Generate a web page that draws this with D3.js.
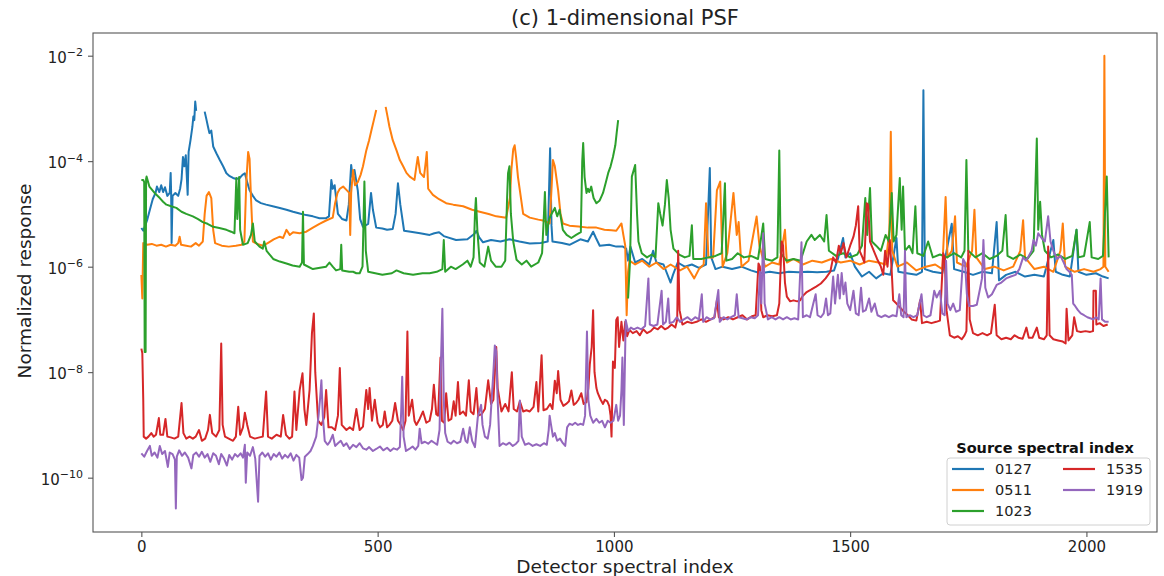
<!DOCTYPE html>
<html><head><meta charset="utf-8">
<script src="https://cdn.jsdelivr.net/npm/d3@7"></script>
<style>body{margin:0;background:#fff} svg{display:block} text{font-family:"DejaVu Sans",sans-serif}</style>
</head><body><svg id="chart" width="1164" height="576"></svg>
<script>
const chartTitle = "(c) 1-dimensional PSF";
const xLabel = "Detector spectral index";
const yLabel = "Normalized response";
const legendTitle = "Source spectral index";
const seriesNames = ["0127","0511","1023","1535","1919"];
const seriesColors = ["#1f77b4","#ff7f0e","#2ca02c","#d62728","#9467bd"];
const xTicks = [0,500,1000,1500,2000];
const yTickExps = [-2,-4,-6,-8,-10];

const s0127 = [[0,5.4e-6],[4,4.8e-6],[8,6e-6],[12,7.5e-6],[18,1.2e-5],[24,1.9e-5],[30,2.5e-5],[33,3.3e-5],[38,2.6e-5],[42,3.5e-5],[46,2.6e-5],[50,3.2e-5],[55,2.2e-5],[60,2.5e-5],[62,6e-5],[63,2.5e-5],[64,2.8e-6],[66,2.2e-5],[72,2.5e-5],[78,2.2e-5],[82,3e-5],[85,4.5e-5],[88,1.2e-4],[91,8e-5],[94,1.3e-4],[98,2.3e-5],[100,1.5e-4],[104,2.5e-4],[108,4.5e-4],[110,7e-4],[112,6e-4],[114,1.35e-3],[116,9e-4],[118,null],[132,null],[134,8.7e-4],[138,6e-4],[141,4.5e-4],[144,3.4e-4],[148,3.8e-4],[152,1.9e-4],[159,1.4e-4],[166,1.05e-4],[173,8e-5],[180,5.9e-5],[187,5.2e-5],[194,4.8e-5],[201,4.6e-5],[208,4.8e-5],[214,5.5e-5],[219,5.9e-5],[224,4e-5],[229,2.8e-5],[236,2.2e-5],[243,1.8e-5],[253,1.6e-5],[264,1.5e-5],[278,1.4e-5],[293,1.3e-5],[307,1.2e-5],[321,1.1e-5],[335,1.02e-5],[349,9.5e-6],[363,9e-6],[377,8.3e-6],[391,8.3e-6],[397,9e-6],[402,4.4e-5],[405,3e-5],[409,3.5e-5],[416,1e-5],[425,8e-6],[434,7.5e-6],[439,1.5e-5],[444,8.5e-5],[447,5e-5],[451,6.8e-5],[458,2.8e-5],[463,8e-6],[469,5.7e-6],[480,6.5e-6],[486,2.5e-5],[490,1.2e-5],[497,5.5e-6],[510,5.3e-6],[520,5e-6],[532,5.2e-6],[538,1e-5],[543,3.8e-5],[548,1.5e-5],[556,4.8e-6],[570,4.6e-6],[590,4.3e-6],[610,4e-6],[620,4.3e-6],[630,4.5e-6],[640,3.8e-6],[666,3.2e-6],[690,3.3e-6],[705,4.2e-6],[709,4.8e-6],[715,3.6e-6],[723,2.9e-6],[740,3.2e-6],[760,3e-6],[779,3.3e-6],[800,3e-6],[822,2.75e-6],[845,2.8e-6],[860,3e-6],[865,1.75e-4],[868,6e-6],[870,3e-6],[890,2.8e-6],[906,2.6e-6],[929,3.3e-6],[945,3e-6],[956,4.6e-6],[962,3.5e-6],[970,2.5e-6],[990,2.6e-6],[1005,2.4e-6],[1019,2.4e-6],[1026,2.2e-6],[1030,1.3e-6],[1035,2.4e-6],[1045,1.2e-6],[1060,1.4e-6],[1075,1.1e-6],[1083,2e-6],[1090,1.2e-6],[1105,1.1e-6],[1120,5e-7],[1125,7e-7],[1135,1.2e-6],[1150,1e-6],[1165,1.1e-6],[1180,9.5e-7],[1195,1.1e-6],[1203,7.4e-5],[1206,1.5e-6],[1215,9e-7],[1230,1e-6],[1250,9e-7],[1270,1e-6],[1290,8.5e-7],[1310,7.5e-7],[1330,8e-7],[1350,7.5e-7],[1370,8e-7],[1390,7.8e-7],[1410,8e-7],[1430,7.8e-7],[1450,8e-7],[1466,8.5e-7],[1475,1.5e-6],[1485,3.5e-6],[1490,1.5e-6],[1500,1.8e-6],[1510,1e-6],[1525,6.5e-7],[1540,8e-7],[1555,6e-7],[1570,7.5e-7],[1585,7e-7],[1598,3.5e-6],[1602,8e-7],[1620,7.5e-7],[1640,7e-7],[1652,8e-7],[1655,2.2e-3],[1658,9e-7],[1675,8e-7],[1695,7.5e-7],[1715,6.5e-6],[1720,9e-7],[1740,8e-7],[1760,7e-7],[1780,8e-7],[1800,7.5e-7],[1810,7e-6],[1815,5.5e-7],[1830,7e-7],[1850,8e-7],[1870,6.5e-7],[1890,7e-7],[1910,6.5e-7],[1930,3.2e-6],[1935,8e-7],[1950,7e-7],[1965,6.5e-7],[1979,5e-6],[1983,8e-7],[2000,7e-7],[2020,7.5e-7],[2035,6.5e-7],[2047,6e-7]];

const s0511 = [[0,7e-7],[2,2.5e-7],[4,2.8e-6],[12,2.6e-6],[22,2.7e-6],[32,2.5e-6],[42,2.6e-6],[52,2.4e-6],[62,2.6e-6],[72,2.5e-6],[78,2.8e-6],[81,3.7e-6],[84,2.6e-6],[95,2.5e-6],[105,2.4e-6],[115,2.8e-6],[122,2.5e-6],[130,3e-6],[134,1e-5],[138,2.2e-5],[143,2.6e-5],[148,2e-5],[152,5e-6],[156,2.8e-6],[170,2.5e-6],[185,2.4e-6],[200,2.5e-6],[212,2.6e-6],[218,3e-6],[222,4e-5],[226,1.5e-4],[229,1.1e-4],[232,2e-5],[236,3e-6],[245,2.7e-6],[258,2.5e-6],[270,2.9e-6],[280,3.3e-6],[293,3.7e-6],[300,3.5e-6],[307,5e-6],[314,4e-6],[321,4.5e-6],[335,4.3e-6],[349,4.6e-6],[363,5.5e-6],[377,6.5e-6],[391,7.5e-6],[405,8.5e-6],[410,1.6e-5],[415,2.5e-5],[420,3e-5],[427,3.3e-5],[435,2.8e-5],[440,2.5e-5],[442,4e-6],[444,2.5e-5],[448,6.8e-5],[452,3.5e-5],[458,4e-5],[464,5.5e-5],[469,8e-5],[476,1.6e-4],[482,2.5e-4],[487,3.9e-4],[492,6e-4],[497,9.3e-4],[499,null],[515,null],[517,1.07e-3],[521,7e-4],[525,4.5e-4],[532,2.5e-4],[540,1.6e-4],[547,1.05e-4],[554,8e-5],[561,6e-5],[568,5.1e-5],[578,4.4e-5],[582,8e-5],[585,1.2e-4],[590,6e-5],[598,5e-5],[602,1e-4],[604,1.5e-4],[607,3e-5],[617,2.3e-5],[630,1.9e-5],[645,1.6e-5],[660,1.5e-5],[681,1.4e-5],[700,1.2e-5],[716,1.1e-5],[735,1e-5],[751,9e-6],[772,8.5e-6],[780,2e-5],[783,6.8e-5],[787,1.7e-4],[790,2e-4],[793,1.2e-4],[797,5e-5],[801,2.8e-5],[808,1e-5],[822,8.5e-6],[840,7.8e-6],[850,7.5e-6],[864,6.6e-6],[868,3e-5],[871,1.05e-4],[875,8e-5],[882,2.8e-5],[887,1e-5],[892,6.6e-6],[906,6e-6],[925,5.8e-6],[945,5.5e-6],[963,5.5e-6],[980,5e-6],[995,4.9e-6],[1005,4.8e-6],[1016,6.6e-6],[1020,4e-6],[1024,2.5e-6],[1027,1.2e-7],[1030,8e-7],[1033,1.3e-6],[1045,1.1e-6],[1060,1.3e-6],[1075,1e-6],[1090,1.2e-6],[1105,9e-7],[1120,1.1e-6],[1140,8.5e-7],[1155,1e-6],[1170,6e-7],[1180,9e-7],[1190,1.1e-6],[1195,1.6e-5],[1200,1.5e-6],[1210,1.5e-6],[1218,2.8e-5],[1225,4.1e-5],[1230,1e-6],[1240,1.8e-6],[1253,2.5e-5],[1260,4e-6],[1264,7e-6],[1270,1e-6],[1285,1.3e-6],[1302,8.9e-6],[1308,2.5e-6],[1320,1e-6],[1335,1.2e-6],[1350,1.1e-6],[1362,5e-6],[1366,1.2e-6],[1380,1.4e-6],[1400,1.1e-6],[1420,1.3e-6],[1440,1.2e-6],[1460,1.4e-6],[1480,1.2e-6],[1500,1.3e-6],[1520,1.1e-6],[1540,1.3e-6],[1560,1.2e-6],[1575,1.1e-6],[1583,5e-6],[1586,3.6e-4],[1589,2e-6],[1600,1e-6],[1620,1.2e-6],[1640,8.5e-7],[1660,1e-6],[1680,1.1e-6],[1695,9e-7],[1702,2.1e-5],[1706,1.5e-6],[1715,2e-6],[1722,9e-6],[1726,1.2e-6],[1745,1e-6],[1758,2e-6],[1763,1.2e-5],[1767,1.5e-6],[1785,9e-7],[1805,1e-6],[1825,8.5e-7],[1845,1e-6],[1860,2e-6],[1866,7.6e-6],[1870,1.5e-6],[1890,9e-7],[1910,1e-6],[1930,8e-7],[1945,2e-6],[1950,6.6e-6],[1955,1e-6],[1975,8e-7],[1995,9e-7],[2015,8e-7],[2030,9e-7],[2036,1e-6],[2038,1.0e-2],[2040,1e-6],[2047,8e-7]];

const s1023 = [[0,4.4e-5],[4,4.4e-5],[6,4e-5],[7,2.4e-8],[9,2.4e-8],[10,4.6e-5],[11,5.1e-5],[17,3.3e-5],[28,2.5e-5],[39,2e-5],[46,1.7e-5],[53,1.5e-5],[63,1.4e-5],[74,1.3e-5],[85,1.1e-5],[95,1e-5],[109,9e-6],[120,8e-6],[130,7e-6],[140,6.5e-6],[152,5.7e-6],[165,5.4e-6],[180,5e-6],[190,4.6e-6],[197,4.3e-6],[201,4.8e-5],[203,8e-6],[205,2e-5],[207,5e-5],[209,5e-6],[215,2.6e-6],[225,2.8e-6],[232,4e-6],[236,6.6e-6],[240,3e-6],[250,2.4e-6],[257,2.2e-6],[260,3e-6],[265,2e-6],[279,1.4e-6],[293,1.25e-6],[307,1.15e-6],[320,1.05e-6],[335,1e-6],[340,1.2e-6],[342,1.1e-5],[344,1.1e-6],[363,9e-7],[378,9.5e-7],[391,1e-6],[398,1.2e-6],[405,1e-6],[412,8.5e-7],[421,9e-7],[423,2.6e-6],[425,8.5e-7],[440,8e-7],[448,8e-7],[455,7.5e-7],[462,7.5e-7],[468,1e-6],[472,4.1e-5],[475,2e-6],[480,8e-7],[495,7.5e-7],[510,7e-7],[530,7.5e-7],[540,8.5e-7],[555,7.5e-7],[575,7e-7],[595,7.5e-7],[610,7.5e-7],[625,8e-7],[637,9e-7],[640,3.2e-6],[643,8e-7],[655,1e-6],[665,9e-7],[680,1.1e-6],[690,1.3e-6],[697,1e-6],[703,1.5e-6],[706,1e-5],[708,2e-5],[711,5e-6],[716,1.2e-6],[726,1e-6],[734,2.4e-6],[740,1.3e-6],[750,1e-6],[762,1e-6],[770,1.3e-6],[774,2e-5],[776,5.9e-5],[779,8e-5],[782,1e-5],[787,3e-6],[794,1.35e-6],[805,1.1e-6],[815,1.3e-6],[825,1e-6],[840,1.2e-6],[848,1.8e-6],[852,1e-5],[854,2.6e-5],[857,4e-6],[863,8e-6],[868,1e-5],[875,1.3e-5],[880,9e-6],[885,1.2e-5],[892,5e-6],[900,4e-6],[910,3.5e-6],[920,4e-6],[930,4.5e-6],[933,1e-4],[935,2.2e-4],[938,5e-5],[942,2.5e-5],[945,3e-5],[948,2.6e-5],[952,3.3e-5],[957,2e-5],[963,1.6e-5],[970,1.8e-5],[977,2.5e-5],[983,4e-5],[988,6e-5],[993,8e-5],[998,1.2e-4],[1003,2e-4],[1006,3.5e-4],[1009,6e-4],[1011,null],[1028,null],[1030,2.5e-7],[1034,1.2e-6],[1038,5.1e-5],[1045,8.5e-5],[1049,1e-5],[1052,3e-6],[1059,1.8e-6],[1070,1.5e-6],[1080,1.7e-6],[1088,1.5e-6],[1094,1.6e-5],[1098,1e-5],[1103,6e-6],[1108,1.5e-5],[1112,4.4e-5],[1116,2e-5],[1120,5e-6],[1126,2.2e-6],[1138,1.7e-6],[1150,1.5e-6],[1160,1.6e-6],[1165,6.1e-6],[1168,1.4e-6],[1185,1.4e-6],[1200,1.5e-6],[1215,1.6e-6],[1228,1.8e-6],[1235,3.8e-5],[1238,1.3e-6],[1250,1.4e-6],[1262,1.8e-6],[1275,1.5e-6],[1290,1.6e-6],[1305,1.4e-6],[1316,6.6e-6],[1320,1.4e-6],[1335,1.3e-6],[1346,1.5e-6],[1350,1.6e-4],[1353,1.8e-6],[1365,1.3e-6],[1380,1.4e-6],[1395,1.3e-6],[1408,3e-6],[1418,4e-6],[1425,3.2e-6],[1436,4e-6],[1445,3e-6],[1450,9.5e-6],[1455,2e-6],[1470,1.6e-6],[1485,1.8e-6],[1500,1.5e-6],[1515,1.7e-6],[1525,2.5e-6],[1532,2e-5],[1536,4e-6],[1542,3.1e-5],[1546,3e-6],[1555,2.5e-6],[1565,2e-6],[1575,4e-6],[1582,3e-6],[1588,2.5e-5],[1592,3e-6],[1598,4e-6],[1605,4.8e-5],[1609,5e-6],[1612,3.3e-5],[1616,2e-6],[1625,2.5e-6],[1632,1.8e-6],[1638,1.4e-5],[1642,1.8e-6],[1655,1.6e-6],[1665,3e-6],[1675,1.5e-6],[1690,1.7e-6],[1705,1.5e-6],[1720,1.8e-6],[1735,1.5e-6],[1742,2e-6],[1746,1.05e-4],[1750,2e-6],[1765,1.5e-6],[1780,1.8e-6],[1795,1.4e-6],[1810,1.6e-6],[1822,2e-6],[1829,9.5e-6],[1833,1.6e-6],[1845,1.4e-6],[1860,1.7e-6],[1875,1.4e-6],[1888,2e-6],[1895,2.7e-4],[1898,5e-6],[1902,1.7e-5],[1906,4e-6],[1912,2e-6],[1925,1.5e-6],[1940,1.7e-6],[1955,1.4e-6],[1970,1.6e-6],[1979,5e-6],[1983,1.5e-6],[1995,1.6e-6],[2007,7e-6],[2011,1.5e-6],[2025,1.4e-6],[2035,1.6e-6],[2043,5.1e-5],[2047,1.5e-6]];

const s1535 = [[0,2.8e-8],[2,2.3e-8],[4,3e-9],[5,6e-10],[10,5.5e-10],[15,6e-10],[21,7e-10],[26,6e-10],[31,6.5e-10],[37,1.35e-9],[40,6.5e-10],[46,6.5e-10],[51,1.3e-9],[55,6e-10],[62,5.8e-10],[70,5.5e-10],[78,6e-10],[85,2.6e-9],[89,7e-10],[95,5.5e-10],[102,6e-10],[109,5.5e-10],[115,6e-10],[122,8e-10],[128,5e-10],[135,5.5e-10],[141,8e-10],[145,1.55e-9],[150,7e-10],[158,6e-10],[165,8e-10],[169,3.5e-8],[172,1e-9],[177,6e-10],[185,5.5e-10],[194,5e-10],[200,6e-10],[205,2.2e-9],[209,6.5e-10],[215,9e-10],[219,1.7e-9],[224,1e-9],[230,6e-10],[240,5.5e-10],[250,5.8e-10],[257,6e-10],[264,4.3e-9],[268,6e-10],[276,5.5e-10],[286,6.5e-10],[295,6e-10],[300,1.55e-9],[306,6.5e-10],[313,5.5e-10],[319,6e-10],[324,4.3e-9],[328,8e-10],[335,4.6e-9],[341,9.5e-9],[345,2e-9],[349,1e-9],[356,4.6e-9],[361,5.5e-8],[365,1.3e-7],[368,1e-8],[374,1.2e-9],[381,1e-9],[387,1.4e-9],[391,4.6e-9],[396,9e-10],[403,9e-10],[410,8e-10],[416,1.5e-9],[420,1.2e-8],[424,1e-9],[434,8e-10],[441,9e-10],[448,8e-10],[455,2e-9],[462,8e-10],[469,9.3e-10],[476,4.6e-9],[480,2e-9],[483,5e-9],[488,1.2e-9],[494,3e-9],[500,1.1e-9],[505,9e-10],[511,1e-9],[515,1.8e-9],[520,9e-10],[525,1e-9],[531,1.2e-9],[537,2.6e-9],[543,1.2e-9],[549,1e-9],[554,8e-10],[559,1.2e-9],[563,5.9e-8],[566,1.5e-9],[573,3e-9],[578,1.2e-9],[582,1e-9],[589,1.3e-9],[596,1.8e-9],[603,1.1e-9],[610,1.2e-9],[615,2e-9],[619,5.8e-9],[624,1.6e-9],[628,1.5e-9],[633,1.9e-8],[636,1.2e-9],[641,1.1e-9],[645,4e-9],[650,1.2e-9],[656,1.3e-9],[661,2.8e-9],[665,1.5e-9],[670,6.5e-9],[674,1.6e-9],[681,1.8e-9],[687,1.5e-9],[693,7e-9],[697,1.8e-9],[703,1.6e-9],[709,5e-9],[713,1.5e-9],[720,1.6e-9],[727,2e-9],[734,7e-9],[740,2.5e-9],[745,3e-9],[748,9.5e-9],[751,3e-8],[754,5e-9],[762,1.8e-9],[770,2.5e-9],[777,1.8e-9],[784,1e-8],[788,2e-9],[795,1.8e-9],[801,2.8e-9],[808,1.8e-9],[815,1.9e-9],[822,1.8e-9],[830,2.2e-9],[836,6.5e-9],[840,1.8e-9],[847,2.1e-8],[851,1.9e-9],[858,2e-9],[865,2.5e-9],[870,2e-9],[875,6.9e-9],[879,4e-9],[882,1.05e-8],[887,3e-9],[893,2.3e-9],[899,2.5e-9],[905,2.8e-9],[910,4.5e-9],[915,2.4e-9],[920,2.6e-9],[925,3e-9],[931,4e-9],[936,2.5e-9],[942,2.7e-9],[946,5e-9],[949,1.4e-8],[953,3e-8],[956,1.5e-7],[959,1e-8],[963,5e-9],[966,4e-9],[972,3e-9],[977,2.5e-9],[981,3e-9],[986,2.8e-9],[990,2.3e-9],[993,1.5e-9],[995,6e-10],[998,1.6e-8],[1002,1.2e-8],[1005,9.8e-8],[1008,1.1e-7],[1011,3e-8],[1016,9e-8],[1020,4e-8],[1024,9e-8],[1028,4.8e-8],[1033,6.3e-8],[1040,5.5e-8],[1048,6e-8],[1055,5e-8],[1062,6.5e-8],[1070,5.5e-8],[1078,6e-8],[1085,7e-8],[1093,6.5e-8],[1100,7.5e-8],[1108,6.5e-8],[1115,7e-8],[1122,8e-8],[1130,7e-8],[1134,1e-7],[1136,2e-6],[1139,1.5e-7],[1145,8e-8],[1155,9e-8],[1165,8.5e-8],[1175,9e-8],[1185,1e-7],[1195,9e-8],[1205,1e-7],[1213,1.1e-7],[1218,2.3e-7],[1222,1.1e-7],[1232,1e-7],[1242,1.1e-7],[1252,1e-7],[1262,1.1e-7],[1272,1.2e-7],[1282,1e-7],[1292,1.15e-7],[1300,1.2e-7],[1306,1.15e-6],[1309,1e-6],[1312,1.5e-7],[1316,1.1e-7],[1325,1.2e-7],[1335,1.15e-7],[1345,1.2e-7],[1350,2e-7],[1355,3e-6],[1358,2.5e-6],[1362,5e-7],[1366,2.7e-7],[1373,2.2e-7],[1380,2.3e-7],[1388,2.2e-7],[1394,2.3e-7],[1400,2.8e-7],[1408,3.3e-7],[1418,3.7e-7],[1428,4.2e-7],[1438,4.8e-7],[1448,6e-7],[1458,8e-7],[1464,1.5e-6],[1470,1.2e-6],[1476,2.5e-6],[1480,1.8e-6],[1486,2.8e-6],[1492,1.5e-6],[1500,2.5e-6],[1507,3.7e-6],[1512,6e-6],[1517,1.4e-5],[1520,2e-6],[1526,1.5e-6],[1530,1.2e-6],[1535,1.6e-5],[1538,1.5e-5],[1542,3e-6],[1550,2e-6],[1557,1.4e-6],[1565,1e-6],[1570,7e-7],[1574,2e-6],[1579,1e-6],[1584,3.2e-6],[1588,8e-7],[1591,2.3e-7],[1598,2e-7],[1605,1.7e-7],[1614,1.4e-7],[1622,1.2e-7],[1630,1e-7],[1640,9.5e-8],[1648,2.3e-7],[1652,8.5e-8],[1662,9e-8],[1672,8.5e-8],[1682,9e-8],[1690,9.5e-8],[1697,1.8e-6],[1700,1.5e-6],[1704,1.5e-7],[1711,5e-8],[1720,4.5e-8],[1728,4.8e-8],[1736,4.2e-8],[1742,5e-8],[1746,6e-8],[1750,2e-6],[1753,1e-7],[1760,5.5e-8],[1770,5e-8],[1780,5.5e-8],[1790,5e-8],[1798,5.5e-8],[1806,1.9e-7],[1810,5e-8],[1820,4.2e-8],[1830,4.5e-8],[1840,4.2e-8],[1848,5e-8],[1856,4.5e-8],[1865,4.3e-8],[1873,7e-8],[1878,4.5e-8],[1886,4.5e-8],[1895,7e-8],[1900,4.5e-8],[1910,4.2e-8],[1916,5e-8],[1919,2.4e-6],[1922,5e-8],[1930,4.2e-8],[1940,4e-8],[1950,3.8e-8],[1956,3.5e-8],[1958,1.6e-7],[1962,4e-8],[1970,5e-8],[1974,1.1e-7],[1980,6e-8],[1988,5.8e-8],[1998,6e-8],[2008,5.8e-8],[2014,6e-8],[2015,3.5e-7],[2020,3.5e-7],[2021,8e-8],[2028,8.5e-8],[2036,7.5e-8],[2045,8e-8]];

const s1919 = [[0,2.9e-10],[6,2.5e-10],[12,3.2e-10],[18,4e-10],[22,2.6e-10],[28,3e-10],[34,2.4e-10],[39,4e-10],[44,2.8e-10],[50,3.2e-10],[56,1.6e-10],[60,3e-10],[66,2.8e-10],[71,2.2e-10],[73,2.6e-11],[75,2.5e-10],[80,3.3e-10],[86,2.6e-10],[92,3e-10],[99,2.4e-10],[106,1.5e-10],[110,2.7e-10],[116,3e-10],[122,2.5e-10],[128,3.1e-10],[134,2.4e-10],[140,2.8e-10],[146,2e-10],[152,2.9e-10],[158,2.6e-10],[164,1.8e-10],[169,2.8e-10],[175,2.3e-10],[181,1.7e-10],[186,2.7e-10],[192,2.2e-10],[198,2.8e-10],[204,2.5e-10],[210,2.9e-10],[215,2.4e-10],[219,4.2e-10],[221,8e-11],[224,3e-10],[230,2.6e-10],[236,3.8e-10],[241,2.3e-10],[247,3.5e-11],[250,2.6e-10],[256,3e-10],[262,2.5e-10],[268,2.9e-10],[274,2.2e-10],[280,2.8e-10],[286,2.5e-10],[292,3e-10],[298,2.3e-10],[304,2.7e-10],[310,2.4e-10],[316,2.9e-10],[322,2.1e-10],[328,2.7e-10],[334,2.4e-10],[339,9e-11],[342,1e-10],[346,2.5e-10],[352,2.8e-10],[358,3.2e-10],[363,4e-10],[370,6e-10],[375,1.5e-9],[378,3e-9],[381,7e-9],[384,1.5e-9],[388,5e-10],[394,4.2e-10],[399,4.8e-10],[405,6.5e-10],[410,4e-10],[416,4.5e-10],[422,5e-10],[428,4e-10],[434,4.5e-10],[441,3.5e-10],[448,4.2e-10],[455,3.8e-10],[462,4.5e-10],[469,3.6e-10],[476,3.4e-10],[482,3.8e-10],[490,3.2e-10],[497,3.5e-10],[505,3.9e-10],[512,3.3e-10],[520,3.7e-10],[527,3.2e-10],[534,3.6e-10],[541,3.4e-10],[547,3.8e-10],[550,2e-9],[552,8.2e-9],[555,6e-10],[560,3.2e-10],[567,3.5e-10],[574,3.9e-10],[580,3.4e-10],[586,4e-10],[589,8.5e-10],[593,4.5e-10],[600,4.8e-10],[607,4.4e-10],[614,5e-10],[620,4.6e-10],[626,4.2e-10],[631,8e-10],[634,1.5e-8],[637,1.6e-7],[640,3e-9],[643,7e-10],[648,4.8e-10],[655,4.4e-10],[661,5e-10],[668,4.5e-10],[675,4.8e-10],[681,8.5e-10],[686,5e-10],[690,4.6e-10],[695,9e-10],[700,5e-10],[706,3.8e-10],[712,1.4e-9],[716,1.9e-9],[719,2.4e-9],[722,1e-9],[727,6e-10],[733,5.5e-10],[738,1e-9],[741,2.8e-9],[745,1e-8],[748,3.2e-8],[751,2.5e-8],[754,3e-9],[758,4e-10],[765,4.5e-10],[772,4.2e-10],[779,4.6e-10],[786,4e-10],[793,4.4e-10],[798,5e-10],[801,2.9e-9],[805,6e-10],[812,4.2e-10],[820,4.5e-10],[828,4e-10],[836,4.3e-10],[844,4e-10],[852,4.5e-10],[858,4.2e-10],[862,8e-10],[864,1.5e-9],[867,1e-9],[871,6e-10],[875,7e-10],[880,5e-10],[886,5.5e-10],[892,4.5e-10],[897,4e-10],[901,9e-10],[906,1.05e-9],[912,1e-9],[918,1.1e-9],[924,1e-9],[930,1.05e-9],[935,1e-9],[939,1.5e-9],[943,5.9e-8],[946,3e-9],[950,1.5e-9],[956,1.1e-9],[963,1.3e-9],[969,1.1e-9],[975,1.2e-9],[981,9e-10],[987,1.2e-9],[993,1.1e-9],[999,1.2e-9],[1005,2.4e-9],[1009,1.2e-9],[1013,1.5e-9],[1016,4.6e-9],[1018,1.9e-8],[1021,1e-9],[1025,9.8e-8],[1030,6e-8],[1036,7e-8],[1042,6.5e-8],[1050,7e-8],[1058,6.5e-8],[1066,7.5e-8],[1073,6e-7],[1076,8e-8],[1084,7.5e-8],[1092,8e-8],[1101,3.5e-7],[1104,8e-8],[1110,9e-8],[1115,2.5e-7],[1118,8.5e-8],[1126,9e-8],[1133,1.1e-7],[1140,9e-8],[1148,1e-7],[1156,1.1e-7],[1164,9.5e-8],[1172,1.1e-7],[1180,1e-7],[1186,3e-7],[1189,9e-8],[1196,1.1e-7],[1204,1e-7],[1212,1.05e-7],[1221,3.6e-7],[1224,9e-8],[1232,1.1e-7],[1240,1e-7],[1248,1.1e-7],[1256,1.2e-7],[1260,3e-7],[1264,1.1e-7],[1272,1.05e-7],[1281,1e-7],[1290,1.1e-7],[1298,1.05e-7],[1305,1.2e-7],[1309,8e-7],[1312,2e-7],[1316,4.3e-6],[1319,2e-7],[1326,1e-7],[1334,1.1e-7],[1342,1e-7],[1350,1.1e-7],[1358,1e-7],[1366,1.1e-7],[1374,1e-7],[1382,1.05e-7],[1390,1e-7],[1397,2.9e-6],[1400,1.1e-7],[1408,1.2e-7],[1415,1.1e-7],[1422,2e-7],[1427,3e-7],[1431,1.2e-7],[1438,1.1e-7],[1444,1.3e-7],[1449,2.5e-7],[1453,1.2e-7],[1458,1.3e-7],[1464,6.5e-7],[1468,2e-7],[1474,7e-7],[1478,2.5e-7],[1482,7.6e-7],[1486,3e-7],[1490,5e-7],[1494,2e-7],[1500,1.5e-7],[1507,3.5e-7],[1512,1.3e-7],[1518,1.2e-7],[1523,4e-7],[1527,1.4e-7],[1533,1.5e-7],[1540,2.5e-7],[1545,1.4e-7],[1552,2e-7],[1558,1.2e-7],[1566,1.1e-7],[1574,1.2e-7],[1582,1.1e-7],[1590,1.2e-7],[1598,1.15e-7],[1604,3e-7],[1608,1.2e-7],[1613,1.1e-7],[1616,2e-6],[1619,1.1e-7],[1626,1.2e-7],[1634,1.1e-7],[1642,1.2e-7],[1651,3e-7],[1655,1.2e-7],[1662,1.1e-7],[1670,1.2e-7],[1678,3.5e-7],[1683,2.6e-7],[1690,3.5e-7],[1695,1.3e-7],[1700,1.2e-7],[1703,1.3e-6],[1706,2e-7],[1712,1.5e-7],[1718,2e-7],[1724,1.4e-7],[1732,1.5e-7],[1739,1.4e-6],[1743,1.2e-6],[1747,3e-7],[1752,1.8e-7],[1760,1.8e-7],[1768,1.9e-7],[1775,3.9e-7],[1779,6e-7],[1782,3.2e-6],[1786,4e-7],[1792,2.6e-7],[1800,3e-7],[1810,4.5e-7],[1820,5e-7],[1830,6e-7],[1840,6.5e-7],[1850,7e-7],[1858,9e-7],[1866,1.5e-6],[1872,1.3e-6],[1878,1.6e-6],[1884,2e-6],[1888,3.2e-6],[1893,2.5e-6],[1898,4.3e-6],[1905,3.5e-6],[1912,3e-6],[1919,9e-6],[1924,3e-6],[1930,2e-6],[1938,1.4e-6],[1945,1.6e-6],[1952,1.2e-6],[1958,9e-7],[1964,8e-7],[1969,7e-7],[1972,2e-7],[1976,1.8e-7],[1982,1.5e-7],[1988,1.3e-7],[1995,1.2e-7],[2002,1.1e-7],[2008,1.05e-7],[2014,1e-7],[2020,1.1e-7],[2026,1e-7],[2030,6e-7],[2033,1e-7],[2040,9e-8],[2047,9e-8]];

const seriesData = [s0127, s0511, s1023, s1535, s1919];

const svg = d3.select("#chart");
const W = 1164, H = 576;
const plot = {left: 93, top: 33, right: 1157, bottom: 532};

const x = d3.scaleLinear().domain([-102.35, 2149.35]).range([plot.left, plot.right]);
const y = d3.scaleLog().domain([Math.pow(10, -11.03), Math.pow(10, -1.57)]).range([plot.bottom, plot.top]);

svg.append("rect").attr("width", W).attr("height", H).attr("fill", "#fff");

svg.append("clipPath").attr("id", "clip").append("rect")
  .attr("x", plot.left).attr("y", plot.top)
  .attr("width", plot.right - plot.left).attr("height", plot.bottom - plot.top);

const line = d3.line()
  .defined(d => d[1] != null && d[1] > 0)
  .x(d => x(d[0])).y(d => y(d[1]));

const lines = svg.append("g").attr("clip-path", "url(#clip)");
seriesData.forEach((s, i) => {
  lines.append("path").datum(s)
    .attr("d", line)
    .attr("fill", "none")
    .attr("stroke", seriesColors[i])
    .attr("stroke-width", 2)
    .attr("stroke-linejoin", "round");
});

// axes
const xAxis = d3.axisBottom(x).tickValues(xTicks).tickSize(5).tickPadding(4).tickFormat(d3.format("d"));
const gx = svg.append("g").attr("transform", `translate(0,${plot.bottom})`).call(xAxis);
gx.select(".domain").remove();
gx.selectAll(".tick line").attr("stroke", "#444");
gx.selectAll(".tick text").attr("font-size", "15px").attr("fill", "#222").attr("font-family", "DejaVu Sans");

const yTickVals = yTickExps.map(e => Math.pow(10, e));
const yAxis = d3.axisLeft(y).tickValues(yTickVals).tickSize(5).tickPadding(5).tickFormat(() => "");
const gy = svg.append("g").attr("transform", `translate(${plot.left},0)`).call(yAxis);
gy.select(".domain").remove();
gy.selectAll(".tick line").attr("stroke", "#444");
gy.selectAll(".tick text").each(function(d, i) {
  const t = d3.select(this);
  t.attr("font-size", "15px").attr("fill", "#222").attr("font-family", "DejaVu Sans").attr("dy", "0.45em");
  t.append("tspan").text("10");
  t.append("tspan").attr("dy", "-0.6em").attr("font-size", "11px").text("\u2212" + Math.abs(yTickExps[i]));
});

// frame
svg.append("rect").attr("x", plot.left).attr("y", plot.top)
  .attr("width", plot.right - plot.left).attr("height", plot.bottom - plot.top)
  .attr("fill", "none").attr("stroke", "#555").attr("stroke-width", 1.1);

// title & labels
svg.append("text").attr("x", (plot.left + plot.right) / 2).attr("y", 25)
  .attr("text-anchor", "middle").attr("font-size", "21px").attr("fill", "#222").text(chartTitle);
svg.append("text").attr("x", (plot.left + plot.right) / 2).attr("y", 573)
  .attr("text-anchor", "middle").attr("font-size", "18.5px").attr("fill", "#222").text(xLabel);
svg.append("text").attr("transform", "translate(31,281) rotate(-90)")
  .attr("text-anchor", "middle").attr("font-size", "18.5px").attr("fill", "#222").text(yLabel);

// legend
const lg = svg.append("g");
lg.append("rect").attr("x", 947).attr("y", 458).attr("width", 203).attr("height", 67)
  .attr("rx", 3).attr("fill", "#fff").attr("fill-opacity", 0.85).attr("stroke", "#d0d0d0");
lg.append("text").attr("x", 1045).attr("y", 452.5).attr("text-anchor", "middle")
  .attr("font-size", "14.5px").attr("font-weight", "bold").attr("fill", "#111").text(legendTitle);
const legPos = [[952, 469], [952, 490], [952, 511], [1063, 469], [1063, 490]];
seriesNames.forEach((n, i) => {
  const [lx, ly] = legPos[i];
  lg.append("line").attr("x1", lx).attr("x2", lx + 32).attr("y1", ly).attr("y2", ly)
    .attr("stroke", seriesColors[i]).attr("stroke-width", 2.2);
  lg.append("text").attr("x", lx + 43).attr("y", ly + 5.3)
    .attr("font-size", "14.5px").attr("fill", "#222").text(n);
});
</script></body></html>
